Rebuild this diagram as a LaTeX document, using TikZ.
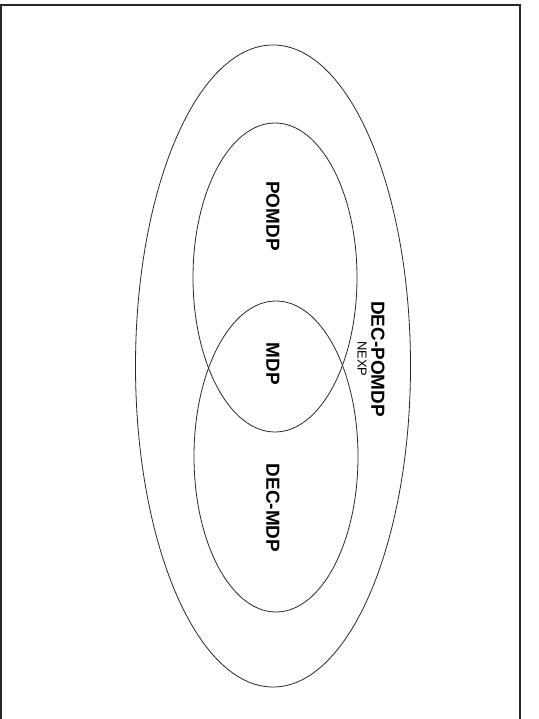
\documentclass[tikz,border=0pt]{standalone}
\usepackage{fontspec}
\setmainfont{Liberation Sans}
\usepackage{tikz}
\definecolor{setline}{RGB}{40,40,40}

\begin{document}
\begin{tikzpicture}[x=1bp, y=-1bp,
    setname/.style={rotate=-90, font=\fontsize{19}{19}\selectfont\bfseries, inner sep=0pt},
    classname/.style={rotate=-90, font=\fontsize{13}{13}\selectfont, inner sep=0pt}]
    \useasboundingbox (0,0) rectangle (539,719);
    % frame, open at the bottom
    \draw[setline, line width=2bp] (0.5,719) -- (0.5,5) -- (520,5) -- (520,719);
    % sets
    \draw[setline, line width=0.8bp] (273,366) ellipse [x radius=137.5, y radius=321];
    \draw[setline, line width=0.8bp] (275,277.5) ellipse [x radius=82, y radius=154.5];
    \draw[setline, line width=0.8bp] (276,456.5) ellipse [x radius=82, y radius=155.5];
    % labels
    \node[setname] (pomdp) at (273,216) {POMDP};
    \node[setname] (mdp) at (273,364) {MDP};
    \node[setname] (decmdp) at (273,508) {DEC-MDP};
    \node[setname] (decpomdp) at (378,359) {DEC-POMDP};
    \node[classname] (nexp) at (362,359) {NEXP};
\end{tikzpicture}
\end{document}
